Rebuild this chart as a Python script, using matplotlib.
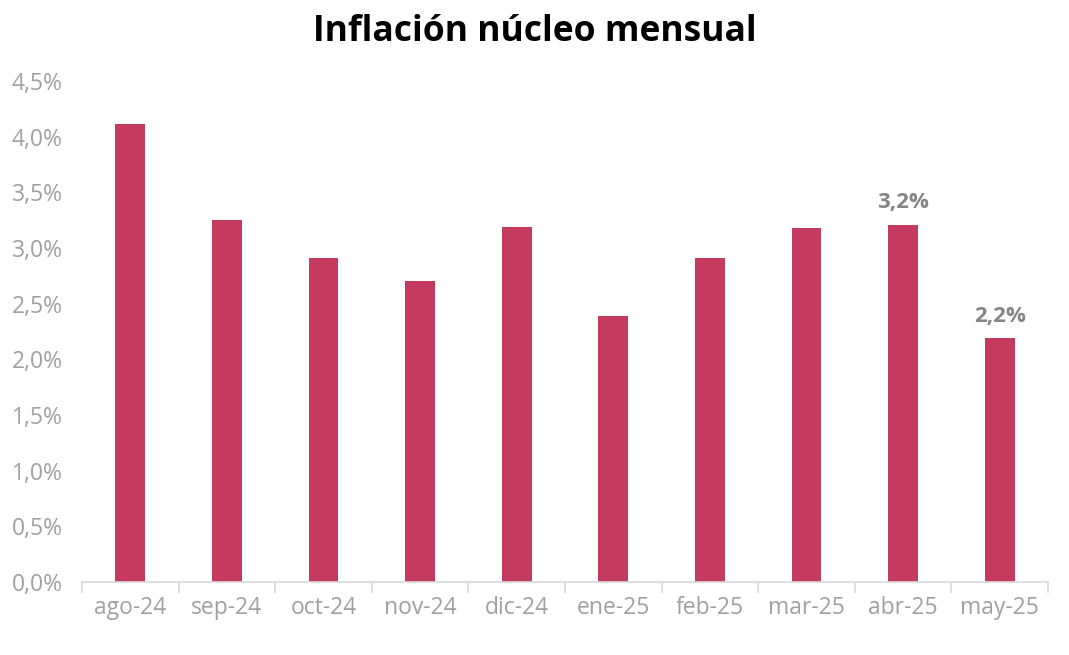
import matplotlib
matplotlib.use("Agg")
import matplotlib.pyplot as plt
from matplotlib.ticker import FuncFormatter, FixedLocator
import numpy as np

categories = ["ago-24", "sep-24", "oct-24", "nov-24", "dic-24", "ene-25", "feb-25", "mar-25", "abr-25", "may-25"]
values = [4.11, 3.25, 2.91, 2.70, 3.19, 2.39, 2.91, 3.18, 3.21, 2.19]
labeled = {"abr-25": "3,2%", "may-25": "2,2%"}
yticks = [0.0, 0.5, 1.0, 1.5, 2.0, 2.5, 3.0, 3.5, 4.0, 4.5]

plt.rcParams['font.family'] = ['Open Sans', 'DejaVu Sans']

fig = plt.figure(figsize=(10.69, 6.55), dpi=100)
ax = fig.add_axes([82/1069, 1-582/655, (1048-82)/1069, (582-81)/655])

x = np.arange(len(categories))
bar_color = "#C53B60"
ax.bar(x, values, width=0.31, color=bar_color, zorder=2)

for xi, cat, v in zip(x, categories, values):
    if cat in labeled:
        ax.text(xi, v + 0.1, labeled[cat], ha="center", va="bottom",
                fontsize=16, fontweight="bold", color="#858585")

ax.set_xlim(-0.5, len(categories) - 0.5)
ax.set_ylim(0, 4.5)
ax.set_yticks(yticks)
ax.yaxis.set_major_formatter(FuncFormatter(lambda v, p: f"{v:.1f}".replace(".", ",") + "%"))
ax.set_xticks(x)
ax.set_xticklabels(categories)
ax.xaxis.set_minor_locator(FixedLocator(np.arange(-0.5, len(categories), 1.0)))

ax.tick_params(axis="x", which="major", length=0, labelsize=16.5, labelcolor="#A0A0A0", pad=10)
ax.tick_params(axis="x", which="minor", length=8, color="#D9D9D9", width=1.2)
ax.tick_params(axis="y", length=0, labelsize=16.5, labelcolor="#A0A0A0", pad=14)

for s in ["top", "right", "left"]:
    ax.spines[s].set_visible(False)
ax.spines["bottom"].set_color("#D9D9D9")
ax.spines["bottom"].set_linewidth(1.2)

fig.text(535/1069, 1-32/655, "Inflación núcleo mensual", ha="center", va="center",
         fontsize=25.5, fontweight="bold", color="#000000")

fig.savefig("out.png", dpi=100, facecolor="white")
